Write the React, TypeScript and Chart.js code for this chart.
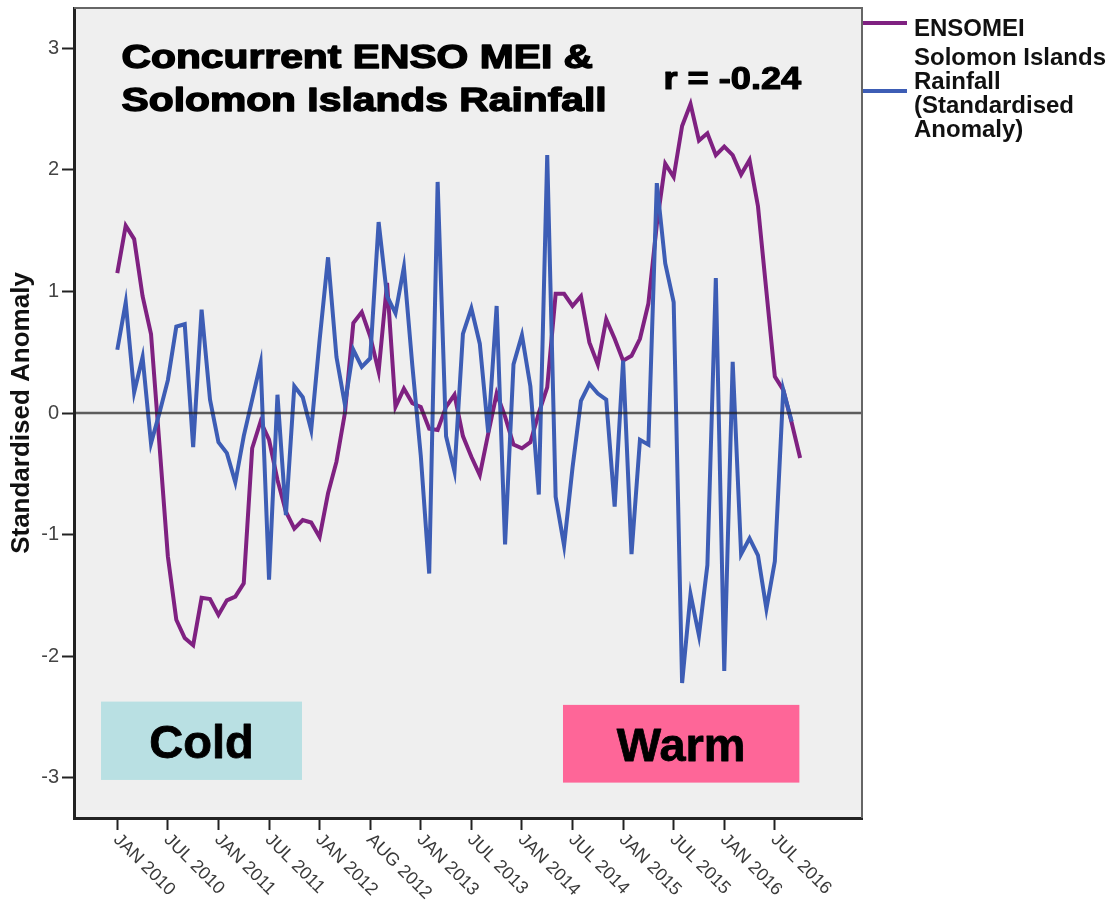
import React, { useEffect, useRef } from "react";
import { Chart, registerables } from "chart.js";

Chart.register(...registerables);

// Monthly series, first value = JAN 2010
const ENSO_MEI = [
  1.15, 1.54, 1.43, 0.96, 0.65, -0.26, -1.18, -1.7, -1.85, -1.91,
  -1.52, -1.53, -1.66, -1.54, -1.51, -1.4, -0.29, -0.07, -0.22, -0.55,
  -0.81, -0.95, -0.88, -0.9, -1.02, -0.66, -0.4, 0.0, 0.74, 0.83,
  0.63, 0.34, 1.07, 0.05, 0.2, 0.08, 0.05, -0.13, -0.14, 0.05,
  0.15, -0.19, -0.36, -0.51, -0.17, 0.16, -0.03, -0.26, -0.29, -0.24,
  0.0, 0.21, 0.98, 0.98, 0.88, 0.96, 0.58, 0.4, 0.77, 0.61,
  0.43, 0.47, 0.61, 0.9, 1.55, 2.05, 1.94, 2.36, 2.54, 2.24,
  2.3, 2.12, 2.19, 2.12, 1.96, 2.08, 1.7, 1.0, 0.3, 0.19,
  -0.08, -0.37,
];

const RAINFALL = [
  0.52, 0.91, 0.17, 0.46, -0.25, 0.0, 0.27, 0.71, 0.73, -0.28,
  0.85, 0.11, -0.24, -0.33, -0.57, -0.19, 0.11, 0.41, -1.37, 0.15,
  -0.84, 0.22, 0.13, -0.14, 0.6, 1.28, 0.46, 0.07, 0.52, 0.38,
  0.45, 1.57, 0.96, 0.82, 1.2, 0.39, -0.35, -1.32, 1.9, -0.19,
  -0.48, 0.65, 0.86, 0.57, -0.16, 0.88, -1.08, 0.4, 0.64, 0.22,
  -0.67, 2.12, -0.69, -1.09, -0.45, 0.1, 0.24, 0.16, 0.11, -0.77,
  0.43, -1.16, -0.22, -0.26, 1.89, 1.23, 0.91, -2.22, -1.49, -1.83,
  -1.25, 1.11, -2.12, 0.42, -1.16, -1.03, -1.17, -1.61, -1.22, 0.19,
  -0.07,
];

const TICK_LABELS = [
  "JAN 2010", "JUL 2010", "JAN 2011", "JUL 2011", "JAN 2012", "AUG 2012", "JAN 2013",
  "JUL 2013", "JAN 2014", "JUL 2014", "JAN 2015", "JUL 2015", "JAN 2016", "JUL 2016",
];
const TICK_EVERY = 6;
const Y_TICKS = [-3, -2, -1, 0, 1, 2, 3];

const SERIES_NAMES = ["ENSOMEI", "Solomon Islands Rainfall (Standardised Anomaly)"];
const LEGEND_LINES = [["ENSOMEI"], ["Solomon Islands", "Rainfall", "(Standardised", "Anomaly)"]];
const TITLE_LINES = ["Concurrent ENSO MEI &", "Solomon Islands Rainfall"];
const CORRELATION_TEXT = "r = -0.24";
const PHASE_LABELS = ["Cold", "Warm"];

const FONT = "'Liberation Sans', Arial, sans-serif";
const PURPLE = "#7f2181";
const BLUE = "#3d5db5";

// phase boxes in axis units
const PHASE_BOXES = [
  { x: [-1.93, 21.91], y: [-2.373, -3.017], fill: "#b9e0e3" },
  { x: [52.87, 80.91], y: [-2.4, -3.039], fill: "#fe6698" },
];

// heavy text: fill plus a thin outline of the same colour
function heavyText(ctx: CanvasRenderingContext2D, s: string, x: number, y: number, w: number) {
  ctx.lineWidth = w;
  ctx.lineJoin = "round";
  ctx.strokeText(s, x, y);
  ctx.fillText(s, x, y);
}

const decorPlugin = {
  id: "decor",
  beforeDraw(chart: any) {
    const { ctx, chartArea: a, width, height } = chart;
    ctx.save();
    ctx.fillStyle = "#ffffff";
    ctx.fillRect(0, 0, width, height);
    ctx.fillStyle = "#efefef";
    ctx.fillRect(a.left, a.top, a.right - a.left, a.bottom - a.top);
    ctx.restore();
  },
  beforeDatasetsDraw(chart: any) {
    const { ctx } = chart;
    const xs = chart.scales.x;
    const ys = chart.scales.y;
    ctx.save();
    PHASE_BOXES.forEach((b, k) => {
      const x0 = xs.getPixelForValue(b.x[0]);
      const x1 = xs.getPixelForValue(b.x[1]);
      const y0 = ys.getPixelForValue(b.y[0]);
      const y1 = ys.getPixelForValue(b.y[1]);
      ctx.fillStyle = b.fill;
      ctx.fillRect(x0, y0, x1 - x0, y1 - y0);
      ctx.fillStyle = "#000";
      ctx.strokeStyle = "#000";
      ctx.font = `bold 47px ${FONT}`;
      ctx.textAlign = "center";
      ctx.textBaseline = "alphabetic";
      heavyText(ctx, PHASE_LABELS[k], (x0 + x1) / 2, (y0 + y1) / 2 + 17, 0.8);
    });
    ctx.restore();
  },
  afterDatasetsDraw(chart: any) {
    const { ctx, chartArea: a } = chart;
    const y0 = chart.scales.y.getPixelForValue(0);
    ctx.save();
    ctx.strokeStyle = "rgba(30,30,30,0.7)";
    ctx.lineWidth = 2.5;
    ctx.beginPath();
    ctx.moveTo(a.left, y0);
    ctx.lineTo(a.right, y0);
    ctx.stroke();
    ctx.restore();
  },
  afterDraw(chart: any) {
    const { ctx, chartArea: a } = chart;
    const xs = chart.scales.x;
    ctx.save();

    // top and right edges of the plot frame
    ctx.strokeStyle = "#666";
    ctx.lineWidth = 2;
    ctx.beginPath();
    ctx.moveTo(a.left, a.top);
    ctx.lineTo(a.right, a.top);
    ctx.lineTo(a.right, a.bottom);
    ctx.stroke();

    // slanted month labels
    ctx.fillStyle = "#3a3a3a";
    ctx.font = `18px ${FONT}`;
    ctx.textAlign = "left";
    ctx.textBaseline = "middle";
    TICK_LABELS.forEach((t, k) => {
      const px = xs.getPixelForValue(k * TICK_EVERY);
      ctx.save();
      ctx.translate(px - 1, xs.top + 19);
      ctx.rotate(Math.PI / 4);
      ctx.fillText(t, 0, 0);
      ctx.restore();
    });

    // heading inside the plot
    ctx.fillStyle = "#000";
    ctx.strokeStyle = "#000";
    ctx.textBaseline = "alphabetic";
    ctx.font = `bold 34px ${FONT}`;
    TITLE_LINES.forEach((line, k) => {
      ctx.save();
      ctx.translate(a.left + 47.5, a.top + 59.5 + k * 43.5);
      ctx.scale(1.2, 1);
      heavyText(ctx, line, 0, 0, 1.4);
      ctx.restore();
    });
    ctx.save();
    ctx.font = `bold 32px ${FONT}`;
    ctx.translate(a.left + 589.5, a.top + 81);
    ctx.scale(1.13, 1);
    heavyText(ctx, CORRELATION_TEXT, 0, 0, 1.2);
    ctx.restore();

    // legend
    const ds = chart.data.datasets;
    const lx0 = a.right + 1;
    const lx1 = a.right + 45;
    const tx = a.right + 52;
    const lineY = [a.top + 15, a.top + 83];
    const firstBase = [a.top + 28, a.top + 57];
    ctx.font = `bold 24px ${FONT}`;
    ctx.fillStyle = "#111";
    LEGEND_LINES.forEach((lines, k) => {
      ctx.strokeStyle = ds[k].borderColor;
      ctx.lineWidth = 4;
      ctx.beginPath();
      ctx.moveTo(lx0, lineY[k]);
      ctx.lineTo(lx1, lineY[k]);
      ctx.stroke();
      lines.forEach((s, j) => ctx.fillText(s, tx, firstBase[k] + j * 24));
    });

    ctx.restore();
  },
};

export default function App() {
  const ref = useRef<HTMLCanvasElement | null>(null);

  useEffect(() => {
    document.body.style.margin = "0";
    const canvas = ref.current;
    if (!canvas) return;

    const chart = new Chart(canvas, {
      type: "line",
      data: {
        datasets: [
          {
            label: SERIES_NAMES[0],
            data: ENSO_MEI.map((v, i) => ({ x: i, y: v })),
            borderColor: PURPLE,
            borderWidth: 4,
            pointRadius: 0,
            tension: 0,
            fill: false,
            order: 1,
          },
          {
            label: SERIES_NAMES[1],
            data: RAINFALL.map((v, i) => ({ x: i, y: v })),
            borderColor: BLUE,
            borderWidth: 4,
            pointRadius: 0,
            tension: 0,
            fill: false,
            order: 0,
          },
        ],
      },
      options: {
        responsive: false,
        animation: false,
        devicePixelRatio: 1,
        events: [],
        layout: { padding: { top: 8, right: 252, bottom: 0, left: 0 } },
        plugins: {
          legend: { display: false },
          tooltip: { enabled: false },
        },
        scales: {
          x: {
            type: "linear",
            min: -5.136,
            max: 88.34,
            afterBuildTicks: (scale: any) => {
              scale.ticks = TICK_LABELS.map((_, k) => ({ value: k * TICK_EVERY }));
            },
            afterFit: (scale: any) => {
              scale.height = 85;
              scale.paddingLeft = 0;
              scale.paddingRight = 0;
            },
            ticks: { display: false },
            grid: {
              drawOnChartArea: false,
              drawTicks: true,
              tickLength: 12,
              tickColor: "#222",
              tickWidth: 2,
            },
            border: { display: true, color: "#222", width: 3 },
          },
          y: {
            type: "linear",
            min: -3.33,
            max: 3.33,
            afterBuildTicks: (scale: any) => {
              scale.ticks = Y_TICKS.map((v) => ({ value: v }));
            },
            afterFit: (scale: any) => {
              scale.width = 74;
              scale.paddingTop = 0;
              scale.paddingBottom = 0;
            },
            ticks: {
              color: "#444",
              font: { family: FONT, size: 20 },
              padding: 3,
            },
            grid: {
              drawOnChartArea: false,
              drawTicks: true,
              tickLength: 12,
              tickColor: "#222",
              tickWidth: 2,
            },
            border: { display: true, color: "#222", width: 3 },
            title: {
              display: true,
              text: "Standardised Anomaly",
              color: "#111",
              font: { family: FONT, size: 26, weight: "bold" },
              padding: { top: 6, bottom: 0 },
            },
          },
        },
      },
      plugins: [decorPlugin],
    } as any);

    return () => chart.destroy();
  }, []);

  return (
    <div style={{ width: 1114, height: 903 }}>
      <canvas ref={ref} width={1114} height={903} style={{ display: "block" }} />
    </div>
  );
}
